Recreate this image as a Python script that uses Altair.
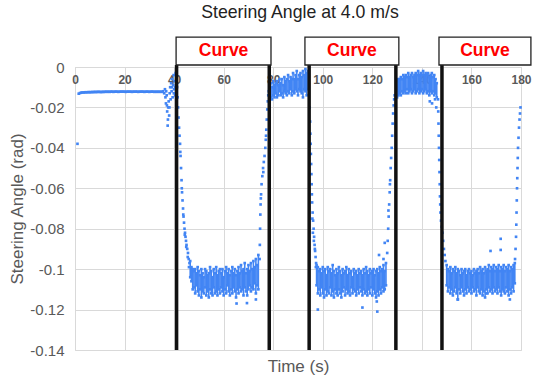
import altair as alt
import pandas as pd

# ---------------- data (angles in mrad, time in s) ----------------
# flat section + isolated points + transitions (single samples)
flat_t = [1.5, 2, 2.5, 3, 3.5, 4, 4.5, 5, 5.5, 6, 6.5, 7, 7.5, 8, 8.5, 9, 9.5, 10, 10.5, 11,
          11.5, 12, 12.5, 13, 13.5, 14, 14.5, 15, 15.5, 16, 16.5, 17, 17.5, 18, 18.5, 19, 19.5,
          20, 20.5, 21, 21.5, 22, 22.5, 23, 23.5, 24, 24.5, 25, 25.5, 26, 26.5, 27, 27.5, 28,
          28.5, 29, 29.5, 30, 30.5, 31, 31.5, 32, 32.5, 33, 33.5, 34, 34.5, 35]
flat_v = [-13.2, -12.9, -12.7, -12.6, -12.6, -12.5, -12.5, -12.5, -12.4, -12.5, -12.4, -12.4,
          -12.4, -12.3, -12.4, -12.3, -12.3, -12.3, -12.4, -12.3, -12.3, -12.3, -12.2, -12.3,
          -12.2, -12.3, -12.2, -12.2, -12.3, -12.2, -12.2, -12.2, -12.3, -12.2, -12.2, -12.2,
          -12.2, -12.2, -12.3, -12.2, -12.2, -12.2, -12.2, -12.3, -12.2, -12.2, -12.2, -12.2,
          -12.3, -12.2, -12.2, -12.2, -12.2, -12.3, -12.2, -12.2, -12.2, -12.3, -12.2, -12.2,
          -12.2, -12.3, -12.2, -12.3, -12.2, -12.3, -12.2, -12.3]

pre_t = [1.0, 35.5, 36, 36.3, 36.5, 36.7, 36.8, 37, 37.1, 37.2, 37.4, 37.5, 37.6, 37.8, 38,
         38.1, 38.2, 38.4, 38.6, 38.8, 39, 39.1, 39.2, 39.4, 39.6, 39.8, 39.9, 40, 40.2, 40.4,
         40.5, 40.6, 40.8, 40.9, 41]
pre_v = [-38, -12, -13, -11, -15, -18, -12, -14, -19, -22, -29, -26, -20, -17, -24,
         -20, -13, -10, -16, -8, -12, -10, -6, -15, -9, -4, -13, -11, -7, -14,
         -10, -3, -9, -13, -6]

desc_b_t = [41.2, 41.4, 41.6, 41.8, 42.0, 42.2, 42.4, 42.6, 42.8, 43.0, 43.2, 43.4, 43.6, 43.8,
            44.0, 44.2, 44.4, 44.6, 44.8, 45.0, 45.3, 45.6, 45.9, 46.2, 42.5, 43.1, 43.7, 44.3,
            44.9, 45.5, 46.0]
desc_b_v = [-10, -15, -20, -25, -30, -34, -38, -44, -50, -56, -62, -66, -70, -74,
            -77, -80, -82, -84, -86, -88, -90, -92, -95, -97, -42, -60, -73, -83,
            -89, -94, -99]

rise_b_t = [74.5, 74.6, 74.7, 74.8, 74.9, 75.1, 75.3, 75.6, 75.9, 76.2, 76.5, 76.8, 77.0, 77.2,
            77.4, 77.6, 77.8, 78.0, 78.2, 75.0, 76.0, 77.1]
rise_b_v = [-95, -88, -80, -73, -68, -63, -58, -54, -50, -47, -44, -40, -36, -31,
            -26, -21, -17, -14, -12, -65, -52, -34]

desc_c_t = [94.7, 94.9, 95.0, 95.1, 95.2, 95.3, 95.4, 95.5, 95.6, 95.7, 95.9, 96.1, 96.3, 96.5,
            96.7, 96.9, 97.1, 97.3, 95.8, 96.0, 96.4, 96.8, 97.2]
desc_c_v = [-20, -27, -33, -38, -43, -48, -53, -58, -63, -67, -72, -76, -80, -84,
            -88, -91, -94, -97, -75, -82, -86, -90, -99]

rise_c_t = [126.0, 126.2, 126.4, 126.6, 126.8, 127.0, 127.2, 127.4, 127.6, 127.8, 128.0, 128.2,
            128.4, 128.6, 128.8, 129.0, 126.5, 127.1]
rise_c_v = [-92, -86, -80, -74, -68, -62, -56, -50, -45, -40, -34, -28,
            -23, -19, -16, -14, -71, -58]

desc_e_t = [146.5, 146.6, 146.7, 146.8, 146.9, 147.0, 147.1, 147.2, 147.3, 147.4, 147.5, 147.7,
            148.0, 148.3, 148.6, 148.9, 149.2, 149.5, 143.2, 144.1, 145.3, 145.8]
desc_e_v = [-16, -22, -28, -34, -40, -46, -52, -58, -64, -68, -72, -76,
            -79, -82, -86, -90, -93, -96, -17, -18, -16, -20]

rise_e_t = [177.6, 177.8, 178.0, 178.1, 178.2, 178.3, 178.4, 178.5, 178.6, 178.7, 178.8, 179.0,
            179.2, 179.4, 179.6, 179.8]
rise_e_v = [-95, -90, -84, -78, -72, -66, -60, -55, -50, -45, -40, -35,
            -30, -26, -23, -20]

outlier_t = [98, 116, 122, 121.8, 122.7, 125, 124.5, 167.7, 171.8, 171.8, 175.5, 65.2, 69.4,
             73, 154.5, 166]
outlier_v = [-120, -119, -121, -116, -93, -87, -95, -91, -85, -90.5, -115, -117, -116.8,
             -115, -115, -112]

# noisy bands: time, lower and upper envelope of the samples
band_b_t = [46.5, 47, 47.5, 48, 48.5, 49, 49.5, 50, 50.5, 51, 51.5, 52, 52.5, 53, 53.5, 54,
            54.5, 55, 55.5, 56, 56.5, 57, 57.5, 58, 58.5, 59, 59.5, 60, 60.5, 61, 61.5, 62,
            62.5, 63, 63.5, 64, 64.5, 65, 65.5, 66, 66.5, 67, 67.5, 68, 68.5, 69, 69.5, 70,
            70.5, 71, 71.5, 72, 72.5, 73, 73.5, 74]
band_b_lo = [-104, -106, -110, -109, -112, -108, -111, -113, -110, -114, -111, -112, -109, -113,
             -111, -114, -110, -112, -113, -109, -112, -111, -113, -110, -112, -109, -111, -113,
             -110, -112, -108, -111, -113, -110, -112, -109, -111, -114, -110, -112, -109, -111,
             -110, -113, -109, -111, -113, -110, -108, -111, -109, -110, -107, -112, -108, -110]
band_b_hi = [-96, -99, -100, -101, -100, -102, -99, -101, -103, -100, -102, -104, -100, -101,
             -103, -102, -99, -101, -104, -100, -102, -99, -103, -101, -100, -102, -100, -104,
             -101, -99, -102, -100, -103, -101, -99, -102, -100, -103, -101, -99, -102, -98,
             -101, -100, -97, -102, -100, -98, -101, -97, -100, -96, -99, -95, -98, -93]

band_c_t = [78.5, 79, 79.5, 80, 80.5, 81, 81.5, 82, 82.5, 83, 83.5, 84, 84.5, 85, 85.5, 86,
            86.5, 87, 87.5, 88, 88.5, 89, 89.5, 90, 90.5, 91, 91.5, 92, 92.5, 93, 93.5, 94]
band_c_lo = [-16, -15, -16, -14, -15, -13, -15, -14, -12, -14, -13, -15, -12, -13, -14, -12,
             -13, -11, -14, -12, -13, -11, -12, -14, -11, -12, -13, -15, -11, -12, -14, -11]
band_c_hi = [-9, -8, -10, -7, -9, -8, -7, -9, -6, -8, -6, -9, -5, -7, -6, -4,
             -7, -5, -6, -3, -6, -4, -2, -6, -4, -3, -5, -2, -4, -1, -3, -2]

band_c2_t = [97.5, 98, 98.5, 99, 99.5, 100, 100.5, 101, 101.5, 102, 102.5, 103, 103.5, 104,
             104.5, 105, 105.5, 106, 106.5, 107, 107.5, 108, 108.5, 109, 109.5, 110, 110.5,
             111, 111.5, 112, 112.5, 113, 113.5, 114, 114.5, 115, 115.5, 116, 116.5, 117,
             117.5, 118, 118.5, 119, 119.5, 120, 120.5, 121, 121.5, 122, 122.5, 123, 123.5,
             124, 124.5, 125, 125.5]
band_c2_lo = [-108, -112, -110, -113, -109, -112, -114, -110, -113, -111, -112, -109, -113, -111,
              -114, -110, -112, -113, -110, -112, -114, -111, -109, -113, -110, -112, -111,
              -113, -109, -112, -110, -111, -113, -110, -112, -109, -111, -113, -110, -112,
              -111, -113, -110, -112, -109, -113, -110, -112, -114, -111, -113, -110, -112,
              -109, -111, -110, -108]
band_c2_hi = [-98, -99, -101, -100, -102, -99, -101, -100, -103, -99, -101, -100, -102, -98,
              -101, -103, -100, -102, -99, -101, -103, -100, -102, -101, -99, -103, -100,
              -102, -101, -104, -100, -102, -101, -103, -100, -102, -101, -103, -100, -102,
              -99, -101, -103, -100, -102, -101, -100, -103, -101, -100, -102, -99, -101,
              -100, -98, -101, -97]

band_d_t = [130, 130.5, 131, 131.5, 132, 132.5, 133, 133.5, 134, 134.5, 135, 135.5, 136, 136.5,
            137, 137.5, 138, 138.5, 139, 139.5, 140, 140.5, 141, 141.5, 142, 142.5, 143, 143.5,
            144, 144.5, 145, 145.5, 146]
band_d_lo = [-15, -14, -13, -14, -12, -13, -12, -13, -11, -13, -12, -11, -13, -12,
             -11, -13, -12, -11, -13, -12, -11, -13, -12, -11, -13, -12, -14, -12,
             -13, -12, -14, -13, -15]
band_d_hi = [-7, -6, -6, -5, -6, -4, -5, -4, -5, -3, -5, -4, -3, -5,
             -4, -3, -4, -2, -4, -3, -4, -2, -4, -3, -4, -3, -5, -4,
             -3, -5, -4, -6, -8]

band_e_t = [150, 150.5, 151, 151.5, 152, 152.5, 153, 153.5, 154, 154.5, 155, 155.5, 156, 156.5,
            157, 157.5, 158, 158.5, 159, 159.5, 160, 160.5, 161, 161.5, 162, 162.5, 163, 163.5,
            164, 164.5, 165, 165.5, 166, 166.5, 167, 167.5, 168, 168.5, 169, 169.5, 170, 170.5,
            171, 171.5, 172, 172.5, 173, 173.5, 174, 174.5, 175, 175.5, 176, 176.5, 177, 177.5]
band_e_lo = [-108, -111, -109, -112, -110, -113, -111, -109, -112, -115, -110, -112, -109, -111,
             -113, -110, -112, -109, -111, -110, -112, -109, -111, -110, -113, -109, -111, -112,
             -110, -113, -111, -114, -110, -112, -109, -111, -110, -112, -109, -111, -110, -112,
             -109, -111, -113, -110, -111, -112, -109, -111, -113, -110, -112, -109, -111, -107]
band_e_hi = [-98, -100, -101, -99, -102, -100, -101, -99, -102, -100, -101, -103, -100, -102,
             -101, -100, -103, -101, -100, -102, -101, -103, -100, -102, -101, -100, -102, -99,
             -101, -100, -102, -99, -101, -100, -98, -101, -99, -100, -98, -101, -99, -100,
             -98, -101, -99, -100, -98, -101, -99, -100, -98, -101, -99, -100, -98, -97]

# annotations
curve_edges = [41.0, 78.4, 94.5, 129.5, 148.1]
box_start = [40.8, 92.8, 146.9]
box_end = [79.1, 130.7, 184.0]
box_label = ["Curve", "Curve", "Curve"]
box_bottom = [0.001, 0.001, 0.001]
box_top = [0.0148, 0.0148, 0.0148]
box_text_y = [0.0079, 0.0079, 0.0079]

x_ticks = [0, 20, 40, 60, 80, 100, 120, 140, 160, 180]
y_ticks = [0, -0.02, -0.04, -0.06, -0.08, -0.1, -0.12, -0.14]

# ---------------- tables ----------------
band_t = band_b_t + band_c_t + band_c2_t + band_d_t + band_e_t
band_lo = band_b_lo + band_c_lo + band_c2_lo + band_d_lo + band_e_lo
band_hi = band_b_hi + band_c_hi + band_c2_hi + band_d_hi + band_e_hi
band_df = pd.DataFrame({"t": band_t,
                        "lo": [v / 1000 for v in band_lo],
                        "hi": [v / 1000 for v in band_hi]})

pt_t = (flat_t + pre_t + desc_b_t + rise_b_t + desc_c_t + rise_c_t + desc_e_t + rise_e_t
        + outlier_t + band_t + band_t)
pt_v = (flat_v + pre_v + desc_b_v + rise_b_v + desc_c_v + rise_c_v + desc_e_v + rise_e_v
        + outlier_v + band_lo + band_hi)
pts_df = pd.DataFrame({"t": pt_t, "v": [v / 1000 for v in pt_v]})

edges_df = pd.DataFrame({"t": curve_edges})
boxes_df = pd.DataFrame({"x0": box_start, "x1": box_end, "y0": box_bottom, "y1": box_top,
                         "xm": [(a + b) / 2 for a, b in zip(box_start, box_end)],
                         "ym": box_text_y, "label": box_label})

BLUE = "#4285f4"
GRID = "#d9d9d9"
LABEL = "#595959"
FONT = "Liberation Sans"

xscale = alt.Scale(domain=[0, 180], nice=False, zero=False)
yscale = alt.Scale(domain=[-0.14, 0], nice=False, zero=False)

xaxis = alt.Axis(orient="top", values=x_ticks, grid=True, gridColor=GRID, ticks=False,
                 domain=True, domainColor=GRID, labelFont=FONT, labelFontSize=12,
                 labelFontWeight="bold", labelColor=LABEL, labelBaseline="top",
                 labelPadding=-7, labelFlush=False, labelOverlap=False, labelBound=False,
                 title="Time (s)", titleFont=FONT, titleFontSize=17, titleFontWeight="normal",
                 titleColor=LABEL, titleY=299, titleBaseline="middle")
yaxis = alt.Axis(orient="left", values=y_ticks, grid=True, gridColor=GRID, ticks=False,
                 domain=False, labelFont=FONT, labelFontSize=15, labelColor=LABEL,
                 labelPadding=11, labelExpr="datum.value + ''",
                 title="Steering Angle (rad)", titleFont=FONT, titleFontSize=17,
                 titleFontWeight="normal", titleColor=LABEL, titleX=-58, titleY=141.5,
                 titleAlign="center", titleBaseline="middle")

band_rules = alt.Chart(band_df).mark_rule(color=BLUE, strokeWidth=1.6).encode(
    x=alt.X("t:Q", scale=xscale, axis=xaxis),
    y=alt.Y("lo:Q", scale=yscale, axis=yaxis),
    y2="hi:Q",
)

points = alt.Chart(pts_df).mark_square(size=7, color=BLUE, opacity=1).encode(
    x=alt.X("t:Q", scale=xscale, axis=xaxis),
    y=alt.Y("v:Q", scale=yscale, axis=yaxis),
)

edge_rules = alt.Chart(edges_df).mark_rule(color="#111111", strokeWidth=3.5).encode(
    x=alt.X("t:Q", scale=xscale, axis=xaxis),
    y=alt.datum(0.001, scale=yscale),
    y2=alt.datum(-0.14),
)

boxes = alt.Chart(boxes_df).mark_rect(fill="white", stroke="#222222", strokeWidth=1.3).encode(
    x=alt.X("x0:Q", scale=xscale, axis=xaxis),
    x2="x1:Q",
    y=alt.Y("y0:Q", scale=yscale, axis=yaxis),
    y2="y1:Q",
)

box_text = alt.Chart(boxes_df).mark_text(color="#ff0000", font=FONT, fontSize=17.5,
                                         fontWeight="bold", baseline="middle",
                                         align="center").encode(
    x=alt.X("xm:Q", scale=xscale, axis=xaxis),
    y=alt.Y("ym:Q", scale=yscale, axis=yaxis),
    text="label:N",
)

chart = alt.layer(band_rules, points, edge_rules, boxes, box_text).properties(
    width=446, height=283,
    title=alt.TitleParams("Steering Angle at 4.0 m/s", font=FONT, fontSize=17.7,
                          fontWeight="normal", color="#222222", anchor="middle",
                          baseline="bottom", offset=15, dx=2, dy=18),
).configure_view(stroke=None).configure(
    autosize=alt.AutoSizeParams(type="none"),
    padding={"left": 75, "top": 67, "right": 12, "bottom": 34},
)

chart.save("out.html", embed_options={"renderer": "svg", "actions": False})
